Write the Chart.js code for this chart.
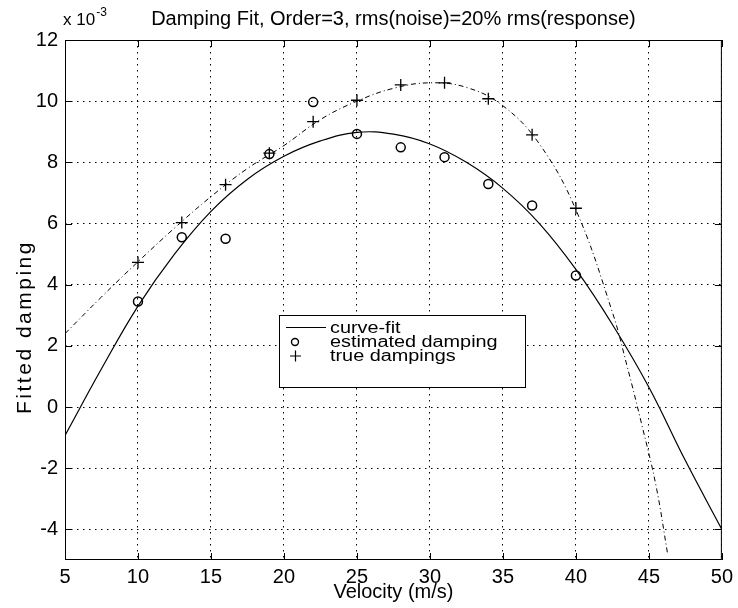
<!DOCTYPE html>
<html>
<head>
<meta charset="utf-8">
<script src="https://cdn.jsdelivr.net/npm/chart.js"></script>
<style>
  html, body { margin: 0; padding: 0; background: #fff; }
</style>
</head>
<body>
<canvas id="dampChart" width="738" height="608"></canvas>
<script>
  // damping values are stored in units of 1e-3 (see the "x 10^-3" axis note)
  const xTicks = [5, 10, 15, 20, 25, 30, 35, 40, 45, 50];
  const yTicks = [-4, -2, 0, 2, 4, 6, 8, 10, 12];

  const velocity = [10, 13, 16, 19, 22, 25, 28, 31, 34, 37, 40];
  const estimatedDamping = [3.45, 5.55, 5.50, 8.27, 9.97, 8.93, 8.49, 8.17, 7.29, 6.59, 4.30];
  const trueDampings = [4.73, 6.03, 7.27, 8.30, 9.33, 10.03, 10.53, 10.60, 10.08, 8.90, 6.50];

  // cubic curve-fit
  const fitVelocity = [5, 7.5, 10, 12.5, 15, 17.5, 20, 22.5, 25, 27.5, 30, 32.5, 35, 37.5, 40, 42.5, 45, 47.5, 50];
  const fitDamping = [-0.93, 1.25, 3.3, 5.0, 6.4, 7.45, 8.2, 8.7, 8.98, 8.92, 8.6, 8.0, 7.15, 6.0, 4.5, 2.7, 0.65, -1.75, -4.0];

  // true damping function (dash-dot)
  const trueVelocity = [5, 7.5, 10, 12.5, 15, 17.5, 20, 22.5, 25, 27.5, 30, 32.5, 35, 37.5, 40, 42.5, 43.5, 44.5, 45.5, 46.3];
  const trueCurve = [2.4, 3.6, 4.75, 5.85, 6.88, 7.8, 8.55, 9.4, 10.0, 10.42, 10.6, 10.45, 9.85, 8.6, 6.45, 3.1, 1.35, -0.55, -2.6, -4.85];

  const FONT = "'Liberation Sans', Arial, Helvetica, sans-serif";

  const pts = (xs, ys) => xs.map((x, i) => ({ x: x, y: ys[i] }));

  const decor = {
    id: 'decor',
    afterDatasetsDraw(chart) {
      const { ctx, chartArea: a, scales: { x, y } } = chart;
      ctx.save();
      ctx.strokeStyle = '#000';
      ctx.lineWidth = 1;
      ctx.beginPath();
      // inward tick marks on all four sides
      xTicks.forEach(v => {
        const px = Math.round(x.getPixelForValue(v)) + 0.5;
        ctx.moveTo(px, a.bottom); ctx.lineTo(px, a.bottom - 7);
        ctx.moveTo(px, a.top); ctx.lineTo(px, a.top + 7);
      });
      yTicks.forEach(v => {
        const py = Math.round(y.getPixelForValue(v)) + 0.5;
        ctx.moveTo(a.left, py); ctx.lineTo(a.left + 7, py);
        ctx.moveTo(a.right, py); ctx.lineTo(a.right - 7, py);
      });
      ctx.stroke();
      ctx.strokeRect(a.left + 0.5, a.top + 0.5, a.right - a.left - 1, a.bottom - a.top - 1);
      ctx.restore();
    },
    afterDraw(chart) {
      const { ctx, chartArea: a } = chart;
      const cx = (a.left + a.right) / 2;
      ctx.save();
      ctx.fillStyle = '#000';
      ctx.textBaseline = 'alphabetic';

      // title
      ctx.font = '20px ' + FONT;
      ctx.textAlign = 'center';
      ctx.fillText('Damping Fit, Order=3, rms(noise)=20% rms(response)', cx, 25);

      // x axis title
      ctx.fillText('Velocity (m/s)', cx, 598);

      // exponent note
      ctx.textAlign = 'left';
      ctx.font = '17px ' + FONT;
      ctx.fillText('x 10', 63, 25);
      const w = ctx.measureText('x 10').width;
      ctx.font = '12px ' + FONT;
      ctx.fillText('-3', 63 + w + 1, 16);

      // y axis title
      ctx.save();
      ctx.translate(31, 327);
      ctx.rotate(-Math.PI / 2);
      ctx.font = '21px ' + FONT;
      ctx.letterSpacing = '2.5px';
      ctx.textAlign = 'center';
      ctx.fillText('Fitted damping', 0, 0);
      ctx.restore();

      // legend box
      const bx = 279.5, by = 315.5, bw = 246, bh = 72;
      ctx.fillStyle = '#fff';
      ctx.fillRect(bx, by, bw, bh);
      ctx.strokeStyle = '#000';
      ctx.lineWidth = 1;
      ctx.strokeRect(bx, by, bw, bh);

      const rows = [327, 341, 355];
      ctx.beginPath();
      ctx.moveTo(286, rows[0] + 0.5);
      ctx.lineTo(326, rows[0] + 0.5);
      ctx.stroke();
      ctx.lineWidth = 1.4;
      ctx.beginPath();
      ctx.arc(295, rows[1] + 1, 3.5, 0, Math.PI * 2);
      ctx.stroke();
      ctx.lineWidth = 1.2;
      ctx.beginPath();
      ctx.moveTo(290, rows[2] + 1); ctx.lineTo(301, rows[2] + 1);
      ctx.moveTo(295.5, rows[2] - 4.5); ctx.lineTo(295.5, rows[2] + 6.5);
      ctx.stroke();

      ctx.fillStyle = '#000';
      ctx.font = '16px ' + FONT;
      const labels = ['curve-fit', 'estimated damping', 'true dampings'];
      labels.forEach((t, i) => {
        ctx.save();
        ctx.translate(330, rows[i] + 6);
        ctx.scale(1.24, 1);
        ctx.fillText(t, 0, 0);
        ctx.restore();
      });
      ctx.restore();
    }
  };

  const gridOpts = { color: '#000', lineWidth: 1, drawTicks: false };
  const tickFont = { family: FONT, size: 20 };

  const ctx = document.getElementById('dampChart').getContext('2d');
  const dampChart = new Chart(ctx, {
    type: 'scatter',
    data: {
      datasets: [{
        label: 'curve-fit',
        data: pts(fitVelocity, fitDamping),
        showLine: true,
        borderColor: '#000',
        borderWidth: 1.2,
        pointRadius: 0,
        tension: 0.4
      }, {
        label: 'true damping function',
        data: pts(trueVelocity, trueCurve),
        showLine: true,
        borderColor: '#000',
        borderWidth: 1,
        borderDash: [5, 3, 1, 3],
        pointRadius: 0,
        tension: 0.4
      }, {
        label: 'estimated damping',
        data: pts(velocity, estimatedDamping),
        showLine: false,
        pointStyle: 'circle',
        pointRadius: 4.5,
        pointBorderWidth: 1.5,
        pointBorderColor: '#000',
        pointBackgroundColor: 'rgba(0,0,0,0)'
      }, {
        label: 'true dampings',
        data: pts(velocity, trueDampings),
        showLine: false,
        pointStyle: 'cross',
        pointRadius: 6,
        pointBorderWidth: 1.3,
        pointBorderColor: '#000'
      }]
    },
    options: {
      responsive: false,
      devicePixelRatio: 1,
      animation: false,
      layout: { padding: { top: 40, right: 15, left: 0, bottom: 0 } },
      plugins: {
        legend: { display: false },
        tooltip: { enabled: false }
      },
      scales: {
        x: {
          type: 'linear',
          min: 5,
          max: 50,
          afterBuildTicks: s => { s.ticks = xTicks.map(v => ({ value: v })); },
          afterFit: s => { s.height = 48; },
          ticks: { font: tickFont, color: '#000', padding: 5, maxRotation: 0, autoSkip: false },
          grid: gridOpts,
          border: { display: false, dash: [1.5, 4.5] }
        },
        y: {
          type: 'linear',
          min: -5,
          max: 12,
          afterBuildTicks: s => { s.ticks = yTicks.map(v => ({ value: v })); },
          afterFit: s => { s.width = 65; },
          ticks: { font: tickFont, color: '#000', padding: 7, autoSkip: false },
          grid: gridOpts,
          border: { display: false, dash: [1.5, 4.5] }
        }
      }
    },
    plugins: [decor]
  });
</script>
</body>
</html>
